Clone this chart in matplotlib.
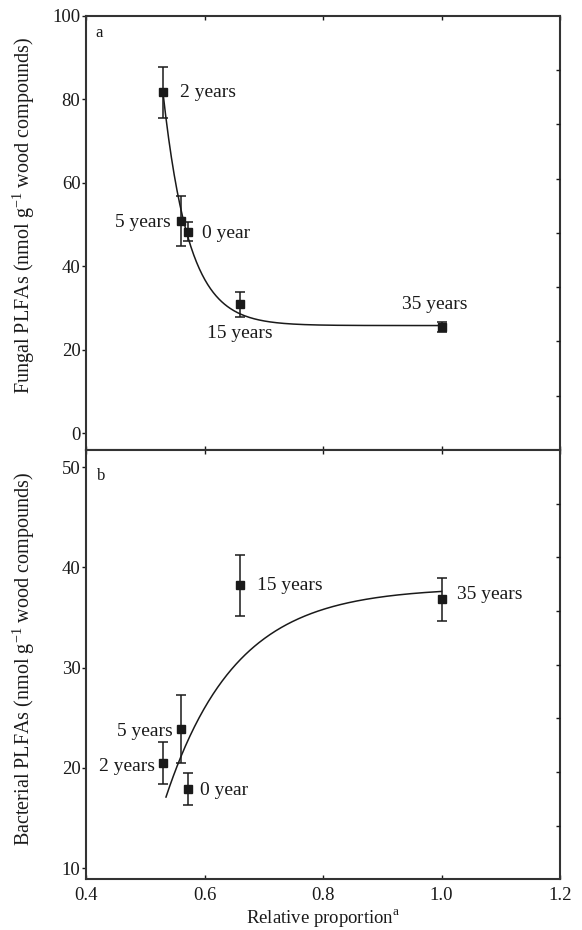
import numpy as np
import matplotlib
matplotlib.use('Agg')
import matplotlib.pyplot as plt

plt.rcParams['font.family'] = ['Liberation Serif', 'DejaVu Serif']
plt.rcParams['mathtext.fontset'] = 'custom'
plt.rcParams['mathtext.rm'] = 'Liberation Serif'

# stand ages and relative proportion of wood compounds
ages = ['0 year', '2 years', '5 years', '15 years', '35 years']
rel_prop = [0.572, 0.530, 0.560, 0.660, 1.000]

# fungal PLFAs (panel a)
fungal = [48.3, 81.7, 50.9, 30.9, 25.5]
fungal_err = [2.3, 6.1, 6.0, 3.0, 1.2]

# bacterial PLFAs (panel b)
bacterial = [17.9, 20.5, 23.9, 38.2, 36.8]
bacterial_err = [1.6, 2.1, 3.4, 3.0, 2.1]

# fitted curves: y = c + d * exp(-k * (x - x0))
fit_a = dict(c=25.8, d=55.7, k=23.0, x0=0.530, xmax=1.0)
fit_b = dict(c=38.0, d=-20.9, k=8.5, x0=0.535, xmax=1.0)

# label placement (x, y, horizontal alignment)
labels_a = {'0 year': (0.595, 47.9, 'left'), '2 years': (0.559, 81.7, 'left'),
            '5 years': (0.543, 50.4, 'right'), '15 years': (0.605, 24.0, 'left'),
            '35 years': (0.989, 30.9, 'center')}
labels_b = {'0 year': (0.592, 17.8, 'left'), '2 years': (0.5165, 20.1, 'right'),
            '5 years': (0.5457, 23.6, 'right'), '15 years': (0.688, 38.2, 'left'),
            '35 years': (1.026, 37.3, 'left')}

ink = '#1a1a1a'

fig = plt.figure(figsize=(5.82, 9.3), dpi=100)
left, width = 86 / 582, 474 / 582
ax1 = fig.add_axes([left, 1 - 450 / 930, width, (450 - 15.7) / 930])
ax2 = fig.add_axes([left, 1 - 879.3 / 930, width, (879.3 - 450) / 930])


def draw_panel(ax, y, yerr, fit, labels):
    ax.errorbar(rel_prop, y, yerr=yerr, fmt='s', color=ink, ms=6.3,
                ecolor=ink, elinewidth=1.1, capsize=3.3, capthick=1.1, zorder=3)
    xs = np.linspace(fit['x0'], fit['xmax'], 300)
    ys = fit['c'] + fit['d'] * np.exp(-fit['k'] * (xs - fit['x0']))
    ax.plot(xs, ys, color=ink, lw=1.1, zorder=2)
    for name, (tx, ty, ha) in labels.items():
        ax.text(tx, ty, name, ha=ha, va='center', fontsize=14, color=ink)
    for s in ax.spines.values():
        s.set_linewidth(1.5)
        s.set_color('#333333')
    ax.set_xlim(0.4, 1.2)
    ax.set_xticks([0.4, 0.6, 0.8, 1.0, 1.2])
    ax.tick_params(axis='y', direction='out', length=3, width=1, labelsize=13.5,
                   colors=ink, pad=1)
    ax.tick_params(axis='x', direction='in', length=3, width=1, top=True,
                   labelsize=13.5, colors=ink, pad=5.5)
    # right axis: eight equal divisions
    tw = ax.twinx()
    tw.set_ylim(0, 8)
    tw.set_yticks(range(1, 8))
    tw.tick_params(axis='y', direction='in', length=3, width=1, labelright=False,
                   colors=ink)
    for s in tw.spines.values():
        s.set_visible(False)


draw_panel(ax1, fungal, fungal_err, fit_a, labels_a)
draw_panel(ax2, bacterial, bacterial_err, fit_b, labels_b)

ax1.set_ylim(-4, 100)
ax1.set_yticks(range(0, 101, 20))
ax1.tick_params(axis='x', labelbottom=False)
ax2.set_ylim(8.9, 51.7)
ax2.set_yticks(range(10, 51, 10))
ax2.set_xticklabels(['0.4', '0.6', '0.8', '1.0', '1.2'])

ax1.text(0.02, 0.96, 'a', transform=ax1.transAxes, fontsize=12, color=ink,
         va='center')
ax2.text(0.023, 0.94, 'b', transform=ax2.transAxes, fontsize=12, color=ink,
         va='center')

ax1.set_ylabel(r'Fungal PLFAs (nmol g$^{\mathregular{-1}}$ wood compounds)',
               fontsize=14.5, color=ink)
ax1.yaxis.set_label_coords(-0.103, 0.54)
ax2.set_ylabel(r'Bacterial PLFAs (nmol g$^{\mathregular{-1}}$ wood compounds)',
               fontsize=14.5, color=ink)
ax2.yaxis.set_label_coords(-0.103, 0.513)
ax2.set_xlabel(r'Relative proportion$^{\mathregular{a}}$', fontsize=13.5, color=ink,
               labelpad=2)

fig.savefig('out.png', dpi=100)
